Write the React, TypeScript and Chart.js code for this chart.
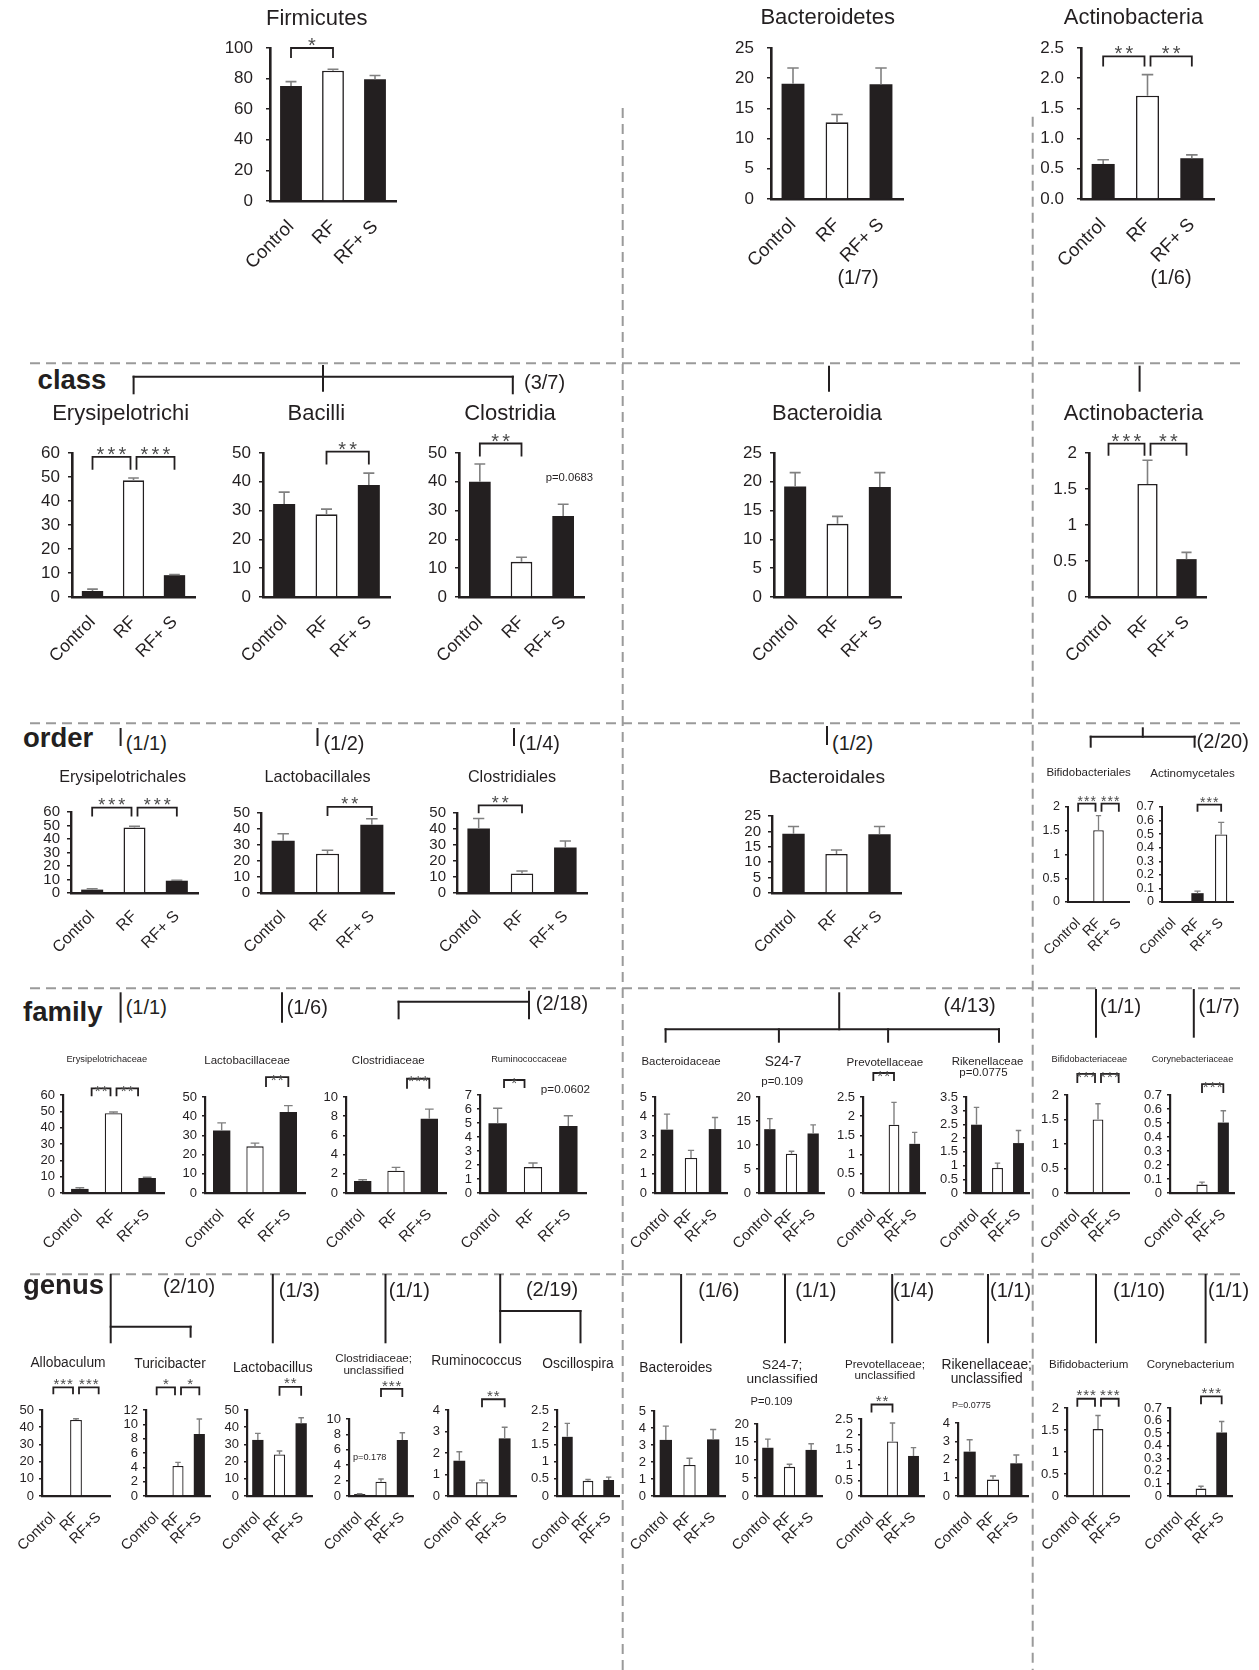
import React, { useEffect, useRef } from "react";
import { Chart, registerables } from "chart.js";
Chart.register(...registerables);

const FONT = '"Liberation Sans", Arial, Helvetica, sans-serif';
const INK = "#231f20";

// ---------- category labels ----------
const LABELS_SP = ["Control", "RF", "RF+ S"];
const LABELS_N = ["Control", "RF", "RF+S"];

// ---------- phylum ----------
const firmicutesMean = [75.2, 85.2, 79.6];
const firmicutesSem = [2.8, 0.9, 2.4];
const bacteroidetesMean = [19.1, 12.7, 19.0];
const bacteroidetesSem = [2.6, 1.3, 2.7];
const actinobacteriaMean = [0.58, 1.71, 0.675];
const actinobacteriaSem = [0.07, 0.35, 0.055];
// ---------- class ----------
const erysipelotrichiMean = [2.5, 48.6, 9.1];
const erysipelotrichiSem = [0.8, 1.0, 0.3];
const bacilliMean = [32.3, 28.7, 38.9];
const bacilliSem = [4.1, 1.8, 4.1];
const clostridiaMean = [40.0, 12.2, 28.1];
const clostridiaSem = [6.2, 1.6, 4.1];
const bacteroidiaMean = [19.2, 12.7, 19.1];
const bacteroidiaSem = [2.4, 1.3, 2.5];
const actinobacteriaClassMean = [0.005, 1.57, 0.526];
const actinobacteriaClassSem = [0, 0.33, 0.094];
// ---------- order ----------
const erysipelotrichalesMean = [2.5, 48.6, 9.1];
const erysipelotrichalesSem = [0.7, 0.9, 0.3];
const lactobacillalesMean = [32.7, 24.6, 42.6];
const lactobacillalesSem = [4.3, 2.1, 3.8];
const clostridialesMean = [40.3, 12.2, 28.5];
const clostridialesSem = [6.2, 1.5, 4.0];
const bacteroidalesMean = [19.2, 12.7, 19.1];
const bacteroidalesSem = [2.4, 1.3, 2.5];
const bifidobacterialesMean = [0.004, 1.51, 0.02];
const bifidobacterialesSem = [0, 0.31, 0];
const actinomycetalesMean = [0.004, 0.065, 0.498];
const actinomycetalesSem = [0, 0.015, 0.089];
// ---------- family ----------
const erysipelotrichaceaeMean = [2.5, 48.8, 9.2];
const erysipelotrichaceaeSem = [0.7, 0.8, 0.4];
const lactobacillaceaeMean = [32.6, 24.3, 42.2];
const lactobacillaceaeSem = [3.9, 1.7, 3.3];
const clostridiaceaeMean = [1.25, 2.32, 7.74];
const clostridiaceaeSem = [0.13, 0.35, 1.0];
const ruminococcaceaeMean = [4.98, 1.85, 4.79];
const ruminococcaceaeSem = [1.07, 0.29, 0.73];
const bacteroidaceaeMean = [3.3, 1.82, 3.33];
const bacteroidaceaeSem = [0.81, 0.4, 0.6];
const s247Mean = [13.3, 8.2, 12.4];
const s247Sem = [2.2, 0.5, 1.8];
const prevotellaceaeMean = [0, 1.78, 1.28];
const prevotellaceaeSem = [0, 0.58, 0.3];
const rikenellaceaeMean = [2.49, 0.91, 1.82];
const rikenellaceaeSem = [0.63, 0.18, 0.46];
const bifidobacteriaceaeMean = [0.004, 1.5, 0.02];
const bifidobacteriaceaeSem = [0, 0.32, 0];
const corynebacteriaceaeMean = [0.003, 0.06, 0.503];
const corynebacteriaceaeSem = [0, 0.018, 0.085];
// ---------- genus ----------
const allobaculumMean = [0.15, 44.2, 0.15];
const allobaculumSem = [0, 0.7, 0];
const turicibacterMean = [0.05, 4.19, 8.65];
const turicibacterSem = [0, 0.5, 2.1];
const lactobacillusMean = [32.6, 24.2, 42.3];
const lactobacillusSem = [3.8, 2.0, 3.2];
const clostridiaceaeUnclMean = [0.25, 1.86, 7.27];
const clostridiaceaeUnclSem = [0.05, 0.34, 0.95];
const ruminococcusMean = [1.64, 0.64, 2.68];
const ruminococcusSem = [0.42, 0.1, 0.52];
const oscillospiraMean = [1.72, 0.44, 0.465];
const oscillospiraSem = [0.39, 0.04, 0.085];
const bacteroidesMean = [3.3, 1.82, 3.33];
const bacteroidesSem = [0.81, 0.4, 0.58];
const s247UnclMean = [13.4, 8.1, 12.8];
const s247UnclSem = [2.4, 0.7, 1.7];
const prevotellaceaeUnclMean = [0, 1.77, 1.3];
const prevotellaceaeUnclSem = [0, 0.6, 0.27];
const rikenellaceaeUnclMean = [2.43, 0.9, 1.79];
const rikenellaceaeUnclSem = [0.65, 0.2, 0.46];
const bifidobacteriumMean = [0.004, 1.52, 0.02];
const bifidobacteriumSem = [0, 0.31, 0];
const corynebacteriumMean = [0.003, 0.059, 0.505];
const corynebacteriumSem = [0, 0.018, 0.088];

const KWK = ["k", "w", "k"];
const KKW = ["k", "k", "w"];

type RowStyle = {
  tick: number; label: number; tickPad: number; xPad: number; tickLen: number;
  star: number; gap: number; raise: number; axis: number; border: number; err: number;
};
const ROW: Record<string, RowStyle> = {
  phylum: { tick: 17, label: 18.5, tickPad: 13, xPad: 7, tickLen: 4, star: 20, gap: 11, raise: 8, axis: 2.6, border: 1.6, err: 1.6 },
  class: { tick: 17, label: 17.5, tickPad: 8, xPad: 7, tickLen: 4, star: 20, gap: 11, raise: 7, axis: 2.6, border: 1.6, err: 1.6 },
  order: { tick: 15, label: 16, tickPad: 7, xPad: 6, tickLen: 4, star: 18, gap: 10, raise: 7, axis: 2.4, border: 1.5, err: 1.5 },
  orderS: { tick: 12.5, label: 14, tickPad: 5, xPad: 5, tickLen: 3, star: 14, gap: 6.5, raise: 6, axis: 2, border: 1.3, err: 1.3 },
  family: { tick: 13, label: 15, tickPad: 5, xPad: 5, tickLen: 3, star: 15, gap: 7, raise: 1, axis: 2.2, border: 1.3, err: 1.4 },
  genus: { tick: 13, label: 14.5, tickPad: 5, xPad: 5, tickLen: 3, star: 15, gap: 6.8, raise: 7, axis: 2.2, border: 1.3, err: 1.4 },
};

type Br = { a: number; b: number; stars: string; level: number; leg: number; da?: number; db?: number };
type Spec = {
  key: string; labels: string[]; mean: number[]; sem: number[]; fills: string[];
  yMax: number; step: number; fmt?: string; geo: number[]; row: string; brackets?: Br[];
};

const PANELS: Spec[] = [
  // phylum
  { key: "firm", labels: LABELS_SP, mean: firmicutesMean, sem: firmicutesSem, fills: KWK, yMax: 100, step: 20, geo: [270, 48.3, 396, 201], row: "phylum",
    brackets: [{ a: 0, b: 1, stars: "*", level: 100, leg: 10 }] },
  { key: "bact", labels: LABELS_SP, mean: bacteroidetesMean, sem: bacteroidetesSem, fills: KWK, yMax: 25, step: 5, geo: [770.5, 48.3, 903, 199], row: "phylum" },
  { key: "acti", labels: LABELS_SP, mean: actinobacteriaMean, sem: actinobacteriaSem, fills: KWK, yMax: 2.5, step: 0.5, fmt: "d1", geo: [1080.7, 48.3, 1214, 199], row: "phylum",
    brackets: [{ a: 0, b: 1, stars: "**", level: 2.36, leg: 10 }, { a: 1, b: 2, stars: "**", level: 2.36, leg: 10 }] },
  // class
  { key: "erysC", labels: LABELS_SP, mean: erysipelotrichiMean, sem: erysipelotrichiSem, fills: KWK, yMax: 60, step: 10, geo: [72, 453.3, 194.6, 596.7], row: "class",
    brackets: [{ a: 0, b: 1, stars: "***", level: 58.4, leg: 13 }, { a: 1, b: 2, stars: "***", level: 58.4, leg: 13 }] },
  { key: "baciC", labels: LABELS_SP, mean: bacilliMean, sem: bacilliSem, fills: KWK, yMax: 50, step: 10, geo: [263, 453.3, 389.5, 596.7], row: "class",
    brackets: [{ a: 1, b: 2, stars: "**", level: 50.5, leg: 13 }] },
  { key: "closC", labels: LABELS_SP, mean: clostridiaMean, sem: clostridiaSem, fills: KWK, yMax: 50, step: 10, geo: [458.7, 453.3, 584, 596.7], row: "class",
    brackets: [{ a: 0, b: 1, stars: "**", level: 53.3, leg: 13 }] },
  { key: "bactC", labels: LABELS_SP, mean: bacteroidiaMean, sem: bacteroidiaSem, fills: KWK, yMax: 25, step: 5, geo: [774, 453.3, 901.2, 596.7], row: "class" },
  { key: "actiC", labels: LABELS_SP, mean: actinobacteriaClassMean, sem: actinobacteriaClassSem, fills: KWK, yMax: 2, step: 0.5, geo: [1088.6, 453.3, 1206, 596.7], row: "class",
    brackets: [{ a: 0, b: 1, stars: "***", level: 2.13, leg: 12 }, { a: 1, b: 2, stars: "**", level: 2.13, leg: 12 }] },
  // order
  { key: "erysO", labels: LABELS_SP, mean: erysipelotrichalesMean, sem: erysipelotrichalesSem, fills: KWK, yMax: 60, step: 10, geo: [71.2, 811.7, 198, 892.7], row: "order",
    brackets: [{ a: 0, b: 1, stars: "***", level: 63.3, leg: 9 }, { a: 1, b: 2, stars: "***", level: 63.3, leg: 9 }] },
  { key: "lactO", labels: LABELS_SP, mean: lactobacillalesMean, sem: lactobacillalesSem, fills: KWK, yMax: 50, step: 10, geo: [261, 813.3, 394, 892.7], row: "order",
    brackets: [{ a: 1, b: 2, stars: "**", level: 53.8, leg: 9 }] },
  { key: "closO", labels: LABELS_SP, mean: clostridialesMean, sem: clostridialesSem, fills: KWK, yMax: 50, step: 10, geo: [456.7, 813.3, 587, 892.7], row: "order",
    brackets: [{ a: 0, b: 1, stars: "**", level: 54.8, leg: 8 }] },
  { key: "bactO", labels: LABELS_SP, mean: bacteroidalesMean, sem: bacteroidalesSem, fills: KWK, yMax: 25, step: 5, geo: [771.6, 816, 901.2, 892.7], row: "order" },
  { key: "bifiO", labels: LABELS_SP, mean: bifidobacterialesMean, sem: bifidobacterialesSem, fills: KWK, yMax: 2, step: 0.5, geo: [1068.2, 807.3, 1129.4, 902.3], row: "orderS",
    brackets: [{ a: 0, b: 1, stars: "***", level: 2.07, leg: 8 }, { a: 1, b: 2, stars: "***", level: 2.07, leg: 8 }] },
  { key: "actiO", labels: LABELS_SP, mean: actinomycetalesMean, sem: actinomycetalesSem, fills: KKW, yMax: 0.7, step: 0.1, geo: [1162, 807.3, 1233, 902.3], row: "orderS",
    brackets: [{ a: 1, b: 2, stars: "***", level: 0.717, leg: 7 }] },
  // family
  { key: "erysF", labels: LABELS_N, mean: erysipelotrichaceaeMean, sem: erysipelotrichaceaeSem, fills: KWK, yMax: 60, step: 10, geo: [63.3, 1095, 164.1, 1193.3], row: "family",
    brackets: [{ a: 0, b: 1, stars: "**", level: 64.1, leg: 8, da: 0.35 }, { a: 1, b: 2, stars: "**", level: 64.1, leg: 8, db: -0.27 }] },
  { key: "lactF", labels: LABELS_N, mean: lactobacillaceaeMean, sem: lactobacillaceaeSem, fills: KWK, yMax: 50, step: 10, geo: [204.8, 1097.3, 304.5, 1193.3], row: "family",
    brackets: [{ a: 1, b: 2, stars: "**", level: 60.4, leg: 10, da: 0.33 }] },
  { key: "closF", labels: LABELS_N, mean: clostridiaceaeMean, sem: clostridiaceaeSem, fills: KWK, yMax: 10, step: 2, geo: [346, 1097.3, 446, 1193.3], row: "family",
    brackets: [{ a: 1, b: 2, stars: "***", level: 11.9, leg: 10, da: 0.33 }] },
  { key: "rumiF", labels: LABELS_N, mean: ruminococcaceaeMean, sem: ruminococcaceaeSem, fills: KWK, yMax: 7, step: 1, geo: [479.6, 1095, 586.4, 1193.3], row: "family",
    brackets: [{ a: 0, b: 1, stars: "*", level: 8.07, leg: 8, da: 0.18, db: -0.24 }] },
  { key: "bactF", labels: LABELS_N, mean: bacteroidaceaeMean, sem: bacteroidaceaeSem, fills: KWK, yMax: 5, step: 1, geo: [654.6, 1097.3, 726.8, 1193.3], row: "family" },
  { key: "s247F", labels: LABELS_N, mean: s247Mean, sem: s247Sem, fills: KWK, yMax: 20, step: 5, geo: [758.5, 1097.3, 824, 1193.3], row: "family" },
  { key: "prevF", labels: LABELS_N, mean: prevotellaceaeMean, sem: prevotellaceaeSem, fills: KWK, yMax: 2.5, step: 0.5, geo: [863.3, 1097.3, 925, 1193.3], row: "family",
    brackets: [{ a: 0, b: 1, stars: "**", level: 3.125, leg: 8 }] },
  { key: "rikeF", labels: LABELS_N, mean: rikenellaceaeMean, sem: rikenellaceaeSem, fills: KWK, yMax: 3.5, step: 0.5, geo: [965.6, 1097.3, 1029, 1193.3], row: "family" },
  { key: "bifiF", labels: LABELS_N, mean: bifidobacteriaceaeMean, sem: bifidobacteriaceaeSem, fills: KWK, yMax: 2, step: 0.5, geo: [1067.4, 1095, 1129.4, 1193.3], row: "family",
    brackets: [{ a: 0, b: 1, stars: "***", level: 2.43, leg: 9 }, { a: 1, b: 2, stars: "***", level: 2.43, leg: 9 }] },
  { key: "coryF", labels: LABELS_N, mean: corynebacteriaceaeMean, sem: corynebacteriaceaeSem, fills: KWK, yMax: 0.7, step: 0.1, geo: [1170.1, 1095, 1234, 1193.3], row: "family",
    brackets: [{ a: 1, b: 2, stars: "***", level: 0.778, leg: 9 }] },
  // genus
  { key: "alloG", labels: LABELS_N, mean: allobaculumMean, sem: allobaculumSem, fills: KWK, yMax: 50, step: 10, geo: [41.5, 1410, 110, 1496], row: "genus",
    brackets: [{ a: 0, b: 1, stars: "***", level: 63.2, leg: 7 }, { a: 1, b: 2, stars: "***", level: 63.2, leg: 7 }] },
  { key: "turiG", labels: LABELS_N, mean: turicibacterMean, sem: turicibacterSem, fills: KWK, yMax: 12, step: 2, geo: [145.5, 1410, 210, 1496], row: "genus",
    brackets: [{ a: 0, b: 1, stars: "*", level: 15.17, leg: 8 }, { a: 1, b: 2, stars: "*", level: 15.17, leg: 8 }] },
  { key: "lactG", labels: LABELS_N, mean: lactobacillusMean, sem: lactobacillusSem, fills: KWK, yMax: 50, step: 10, geo: [247.1, 1410, 312, 1496], row: "genus",
    brackets: [{ a: 1, b: 2, stars: "**", level: 63.5, leg: 9 }] },
  { key: "closG", labels: LABELS_N, mean: clostridiaceaeUnclMean, sem: clostridiaceaeUnclSem, fills: KWK, yMax: 10, step: 2, geo: [348.8, 1419, 413, 1496], row: "genus",
    brackets: [{ a: 1, b: 2, stars: "***", level: 13.9, leg: 8 }] },
  { key: "rumiG", labels: LABELS_N, mean: ruminococcusMean, sem: ruminococcusSem, fills: KWK, yMax: 4, step: 1, geo: [447.6, 1410, 516, 1496], row: "genus",
    brackets: [{ a: 1, b: 2, stars: "**", level: 4.5, leg: 8 }] },
  { key: "osciG", labels: LABELS_N, mean: oscillospiraMean, sem: oscillospiraSem, fills: KWK, yMax: 2.5, step: 0.5, geo: [556.7, 1410, 619, 1496], row: "genus" },
  { key: "bactG", labels: LABELS_N, mean: bacteroidesMean, sem: bacteroidesSem, fills: KWK, yMax: 5, step: 1, geo: [653.8, 1410.7, 725, 1495.7], row: "genus" },
  { key: "s247G", labels: LABELS_N, mean: s247UnclMean, sem: s247UnclSem, fills: KWK, yMax: 20, step: 5, geo: [756.5, 1424.3, 822, 1495.7], row: "genus" },
  { key: "prevG", labels: LABELS_N, mean: prevotellaceaeUnclMean, sem: prevotellaceaeUnclSem, fills: KWK, yMax: 2.5, step: 0.5, geo: [861.2, 1419.3, 923.6, 1495.7], row: "genus",
    brackets: [{ a: 0, b: 1, stars: "**", level: 2.97, leg: 8 }] },
  { key: "rikeG", labels: LABELS_N, mean: rikenellaceaeUnclMean, sem: rikenellaceaeUnclSem, fills: KWK, yMax: 4, step: 1, geo: [958.2, 1423.3, 1027.5, 1495.7], row: "genus" },
  { key: "bifiG", labels: LABELS_N, mean: bifidobacteriumMean, sem: bifidobacteriumSem, fills: KWK, yMax: 2, step: 0.5, geo: [1067.4, 1408.3, 1129.4, 1495.7], row: "genus",
    brackets: [{ a: 0, b: 1, stars: "***", level: 2.21, leg: 8 }, { a: 1, b: 2, stars: "***", level: 2.21, leg: 8 }] },
  { key: "coryG", labels: LABELS_N, mean: corynebacteriumMean, sem: corynebacteriumSem, fills: KWK, yMax: 0.7, step: 0.1, geo: [1170.1, 1408.3, 1232, 1495.7], row: "genus",
    brackets: [{ a: 1, b: 2, stars: "***", level: 0.793, leg: 8 }] },
];

// ---------- text overlays ----------
type Txt = { t: string; x: number; y: number; s: number; b?: boolean; l?: boolean };
const TEXTS: Txt[] = [
  // phylum
  { t: "Firmicutes", x: 316.7, y: 18, s: 22 },
  { t: "Bacteroidetes", x: 827.7, y: 17.3, s: 22 },
  { t: "Actinobacteria", x: 1133.5, y: 17, s: 22 },
  { t: "(1/7)", x: 858, y: 276.7, s: 20 },
  { t: "(1/6)", x: 1171, y: 276.7, s: 20 },
  // class
  { t: "class", x: 37.6, y: 380, s: 27.5, b: true, l: true },
  { t: "(3/7)", x: 524, y: 381.7, s: 20, l: true },
  { t: "Erysipelotrichi", x: 120.6, y: 412.7, s: 22 },
  { t: "Bacilli", x: 316.3, y: 412.7, s: 22 },
  { t: "Clostridia", x: 510, y: 412.7, s: 22 },
  { t: "Bacteroidia", x: 827, y: 412.7, s: 22 },
  { t: "Actinobacteria", x: 1133.5, y: 412.7, s: 22 },
  { t: "p=0.0683", x: 569.4, y: 478.3, s: 11.3 },
  // order
  { t: "order", x: 23, y: 738.3, s: 27.5, b: true, l: true },
  { t: "(1/1)", x: 125.7, y: 743.3, s: 20, l: true },
  { t: "(1/2)", x: 323.4, y: 743.3, s: 20, l: true },
  { t: "(1/4)", x: 518.8, y: 743.3, s: 20, l: true },
  { t: "(1/2)", x: 832, y: 743, s: 20, l: true },
  { t: "(2/20)", x: 1196.6, y: 741, s: 20, l: true },
  { t: "Erysipelotrichales", x: 122.6, y: 775.7, s: 16.2 },
  { t: "Lactobacillales", x: 317.5, y: 775.7, s: 16.2 },
  { t: "Clostridiales", x: 512, y: 775.7, s: 16.2 },
  { t: "Bacteroidales", x: 827, y: 776.7, s: 19.2 },
  { t: "Bifidobacteriales", x: 1088.6, y: 773.3, s: 11.5 },
  { t: "Actinomycetales", x: 1192.5, y: 773.3, s: 11.6 },
  // family
  { t: "family", x: 23, y: 1012, s: 27.5, b: true, l: true },
  { t: "(1/1)", x: 125.7, y: 1006.7, s: 20, l: true },
  { t: "(1/6)", x: 286.7, y: 1006.7, s: 20, l: true },
  { t: "(2/18)", x: 535.8, y: 1003.3, s: 20, l: true },
  { t: "(4/13)", x: 969.6, y: 1005, s: 20 },
  { t: "(1/1)", x: 1100, y: 1006, s: 20, l: true },
  { t: "(1/7)", x: 1198.6, y: 1006, s: 20, l: true },
  { t: "Erysipelotrichaceae", x: 106.8, y: 1060, s: 9.25 },
  { t: "Lactobacillaceae", x: 247.1, y: 1061, s: 11.5 },
  { t: "Clostridiaceae", x: 388.3, y: 1061, s: 11.5 },
  { t: "Ruminococcaceae", x: 529, y: 1060, s: 9.2 },
  { t: "p=0.0602", x: 565.4, y: 1089.3, s: 11.7 },
  { t: "Bacteroidaceae", x: 681.1, y: 1061.7, s: 11.4 },
  { t: "S24-7", x: 783, y: 1062, s: 13.75 },
  { t: "p=0.109", x: 782.2, y: 1082.3, s: 11.5 },
  { t: "Prevotellaceae", x: 884.9, y: 1061.7, s: 11.6 },
  { t: "Rikenellaceae", x: 987.6, y: 1061.7, s: 11.4 },
  { t: "p=0.0775", x: 983.5, y: 1072.7, s: 11.5 },
  { t: "Bifidobacteriaceae", x: 1089.4, y: 1060, s: 9.2 },
  { t: "Corynebacteriaceae", x: 1192.5, y: 1060, s: 9.1 },
  // genus
  { t: "genus", x: 23, y: 1285, s: 27.5, b: true, l: true },
  { t: "(2/10)", x: 162.9, y: 1285.7, s: 20, l: true },
  { t: "(1/3)", x: 278.8, y: 1290, s: 20, l: true },
  { t: "(1/1)", x: 388.7, y: 1290, s: 20, l: true },
  { t: "(2/19)", x: 525.9, y: 1289, s: 20, l: true },
  { t: "(1/6)", x: 698.2, y: 1290, s: 20, l: true },
  { t: "(1/1)", x: 795.2, y: 1290, s: 20, l: true },
  { t: "(1/4)", x: 893, y: 1290, s: 20, l: true },
  { t: "(1/1)", x: 990, y: 1290, s: 20, l: true },
  { t: "(1/10)", x: 1113, y: 1290, s: 20, l: true },
  { t: "(1/1)", x: 1208, y: 1290, s: 20, l: true },
  { t: "Allobaculum", x: 68, y: 1362.7, s: 13.8 },
  { t: "Turicibacter", x: 170, y: 1364.3, s: 13.8 },
  { t: "Lactobacillus", x: 272.8, y: 1367.7, s: 13.8 },
  { t: "Clostridiaceae;", x: 373.7, y: 1358.3, s: 11.6 },
  { t: "unclassified", x: 373.7, y: 1369.5, s: 11.6 },
  { t: "p=0.178", x: 369.7, y: 1458.3, s: 9.2 },
  { t: "Ruminococcus", x: 476.5, y: 1361, s: 13.8 },
  { t: "Oscillospira", x: 578, y: 1364.3, s: 13.8 },
  { t: "Bacteroides", x: 675.8, y: 1367.7, s: 13.8 },
  { t: "S24-7;", x: 782.2, y: 1365, s: 13.7 },
  { t: "unclassified", x: 782.2, y: 1378.5, s: 13.7 },
  { t: "P=0.109", x: 771.6, y: 1402.3, s: 11.2 },
  { t: "Prevotellaceae;", x: 884.9, y: 1364, s: 11.6 },
  { t: "unclassified", x: 884.9, y: 1375, s: 11.6 },
  { t: "Rikenellaceae;", x: 986.7, y: 1365, s: 13.8 },
  { t: "unclassified", x: 986.7, y: 1378.5, s: 13.8 },
  { t: "P=0.0775", x: 971.3, y: 1405, s: 9 },
  { t: "Bifidobacterium", x: 1088.6, y: 1365, s: 11.5 },
  { t: "Corynebacterium", x: 1190.5, y: 1365, s: 11.5 },
];

// ---------- separator and tree lines ----------
const DASHED: number[][] = [
  [30, 363.3, 1241, 363.3],
  [30, 723.3, 1241, 723.3],
  [30, 988.3, 1241, 988.3],
  [30, 1274.3, 1241, 1274.3],
  [622.7, 108, 622.7, 1670],
  [1032.7, 116.7, 1032.7, 1670],
];
const TREE: number[][] = [
  // class
  [133.6, 376.7, 512.8, 376.7], [133.6, 376.7, 133.6, 393.3], [512.8, 376.7, 512.8, 393.3], [323, 366, 323, 390.7],
  [829, 366.7, 829, 390.7], [1139.6, 366.7, 1139.6, 390.7],
  // order
  [120.6, 729, 120.6, 745], [317.5, 729, 317.5, 745], [514, 729, 514, 745], [827, 727, 827, 744],
  [1090.7, 736.7, 1194.6, 736.7], [1090.7, 736.7, 1090.7, 746.7], [1194.6, 736.7, 1194.6, 746.7], [1142.8, 728.3, 1142.8, 736.7],
  // family
  [120.6, 993.3, 120.6, 1021.7], [282, 993.3, 282, 1021.7],
  [398.6, 1001.7, 529, 1001.7], [398.6, 1001.7, 398.6, 1018.3], [529, 991.7, 529, 1018.3],
  [839.2, 993.3, 839.2, 1029.3], [665.6, 1029.3, 999, 1029.3],
  [665.6, 1029.3, 665.6, 1041.7], [778.9, 1029.3, 778.9, 1041.7], [888.1, 1029.3, 888.1, 1041.7], [999, 1029.3, 999, 1041.7],
  [1096, 990, 1096, 1036.7], [1193.8, 990, 1193.8, 1036.7],
  // genus
  [110.7, 1275, 110.7, 1342.3], [110.7, 1326.7, 190.6, 1326.7], [190.6, 1326.7, 190.6, 1336.7],
  [272.8, 1275, 272.8, 1342.3], [385.5, 1275, 385.5, 1342.3],
  [500.2, 1275, 500.2, 1342.3], [500.2, 1311, 580.5, 1311], [580.5, 1311, 580.5, 1342.3],
  [681.1, 1275, 681.1, 1342.3], [785, 1275, 785, 1342.3], [892.2, 1275, 892.2, 1342.3],
  [988, 1275, 988, 1342.3], [1096, 1275, 1096, 1342.3], [1205.6, 1275, 1205.6, 1342.3],
];

const L = 58, T = 50, R = 22, B = 80;

function BarPanel({ spec }: { spec: Spec }) {
  const ref = useRef<HTMLCanvasElement | null>(null);
  const st = ROW[spec.row];
  const [ax, top, right, bottom] = spec.geo;
  const left = Math.round(ax) - L;
  const topPx = Math.round(top) - T;
  const pw = Math.round(right) - Math.round(ax);
  const ph = Math.round(bottom) - Math.round(top);
  const W = pw + L + R;
  const H = ph + T + B;

  useEffect(() => {
    const fmt = (v: number) => (spec.fmt === "d1" ? v.toFixed(1) : String(Math.round(v * 1000) / 1000));
    const plugin = {
      id: "annot_" + spec.key,
      afterDatasetsDraw(chart: any) {
        const ctx = chart.ctx as CanvasRenderingContext2D;
        const meta = chart.getDatasetMeta(0);
        const ys = chart.scales.y;
        const xs = chart.scales.x;
        ctx.save();
        // error bars (upper only)
        ctx.strokeStyle = "#808080";
        ctx.lineWidth = st.err;
        spec.mean.forEach((m, i) => {
          const s = spec.sem[i];
          if (!s) return;
          const bar = meta.data[i] as any;
          const x = bar.x;
          const w = bar.width;
          const y0 = ys.getPixelForValue(m);
          const y1 = ys.getPixelForValue(m + s);
          ctx.beginPath();
          ctx.moveTo(x, y0);
          ctx.lineTo(x, y1);
          ctx.moveTo(x - w * 0.25, y1);
          ctx.lineTo(x + w * 0.25, y1);
          ctx.stroke();
        });
        // significance brackets
        const brs = spec.brackets || [];
        const cw = xs.getPixelForValue(1) - xs.getPixelForValue(0);
        brs.forEach((br) => {
          const shared = brs.length > 1;
          let xa = xs.getPixelForValue(br.a) + (br.da || 0) * cw;
          let xb = xs.getPixelForValue(br.b) + (br.db || 0) * cw;
          if (shared && br.a === 1) xa += 3;
          if (shared && br.b === 1) xb -= 3;
          const yt = ys.getPixelForValue(br.level);
          ctx.strokeStyle = INK;
          ctx.lineWidth = 1.8;
          ctx.beginPath();
          ctx.moveTo(xa, yt + br.leg);
          ctx.lineTo(xa, yt);
          ctx.lineTo(xb, yt);
          ctx.lineTo(xb, yt + br.leg);
          ctx.stroke();
          const n = br.stars.length;
          const cx = (xa + xb) / 2;
          const cy = yt - st.raise;
          ctx.fillStyle = "#4a4a4a";
          ctx.font = `${st.star}px ${FONT}`;
          ctx.textAlign = "center";
          ctx.textBaseline = "alphabetic";
          for (let k = 0; k < n; k++) {
            const sx = cx + (k - (n - 1) / 2) * st.gap;
            ctx.fillText("*", sx, cy + 0.58 * st.star);
          }
        });
        ctx.restore();
      },
    };

    const chart = new Chart(ref.current as HTMLCanvasElement, {
      type: "bar",
      data: {
        labels: spec.labels,
        datasets: [
          {
            data: spec.mean,
            backgroundColor: spec.fills.map((f) => (f === "k" ? INK : "#ffffff")),
            borderColor: INK,
            borderWidth: spec.fills.map((f) => (f === "k" ? 0 : st.border)),
            borderSkipped: "bottom",
            categoryPercentage: 1,
            barPercentage: 0.52,
          } as any,
        ],
      },
      options: {
        animation: false,
        responsive: false,
        maintainAspectRatio: false,
        devicePixelRatio: 1,
        events: [],
        layout: { padding: { left: 0, top: T, right: R, bottom: 0 } },
        plugins: { legend: { display: false }, tooltip: { enabled: false }, title: { display: false } },
        scales: {
          x: {
            type: "category",
            offset: true,
            grid: { display: false },
            border: { display: true, color: INK, width: st.axis },
            ticks: {
              autoSkip: false,
              maxRotation: 45,
              minRotation: 45,
              padding: st.xPad,
              color: INK,
              font: { family: FONT, size: st.label },
            },
            afterFit: (s: any) => {
              s.height = B;
            },
          },
          y: {
            min: 0,
            max: spec.yMax,
            grid: { display: true, drawOnChartArea: false, drawTicks: true, tickLength: st.tickLen, color: INK, lineWidth: 1.5 },
            border: { display: true, color: INK, width: st.axis },
            ticks: {
              stepSize: spec.step,
              autoSkip: false,
              padding: st.tickPad,
              color: INK,
              font: { family: FONT, size: st.tick },
              callback: (v: any) => fmt(Number(v)),
            },
            afterFit: (s: any) => {
              s.width = L;
            },
          },
        } as any,
      },
      plugins: [plugin as any],
    });
    return () => chart.destroy();
  }, []);

  return (
    <canvas
      ref={ref}
      width={W}
      height={H}
      style={{ position: "absolute", left, top: topPx, width: W, height: H }}
    />
  );
}

export default function App() {
  return (
    <div
      style={{
        position: "absolute",
        left: 0,
        top: 0,
        width: 1259,
        height: 1670,
        background: "#ffffff",
        overflow: "hidden",
        fontFamily: FONT,
        color: INK,
      }}
    >
      <svg width={1259} height={1670} style={{ position: "absolute", left: 0, top: 0 }}>
        {DASHED.map((d, i) => (
          <line key={"d" + i} x1={d[0]} y1={d[1]} x2={d[2]} y2={d[3]} stroke="#9a9a9a" strokeWidth={2} strokeDasharray="10 6" />
        ))}
        {TREE.map((d, i) => (
          <line key={"t" + i} x1={d[0]} y1={d[1]} x2={d[2]} y2={d[3]} stroke={INK} strokeWidth={2} strokeLinecap="square" />
        ))}
      </svg>
      {PANELS.map((p) => (
        <BarPanel key={p.key} spec={p} />
      ))}
      {TEXTS.map((t, i) => (
        <div
          key={"x" + i}
          style={{
            position: "absolute",
            left: t.x,
            top: t.y,
            transform: t.l ? "translate(0,-50%)" : "translate(-50%,-50%)",
            fontSize: t.s,
            fontWeight: t.b ? 700 : 400,
            lineHeight: 1,
            whiteSpace: "nowrap",
            fontFamily: FONT,
            color: INK,
          }}
        >
          {t.t}
        </div>
      ))}
    </div>
  );
}
